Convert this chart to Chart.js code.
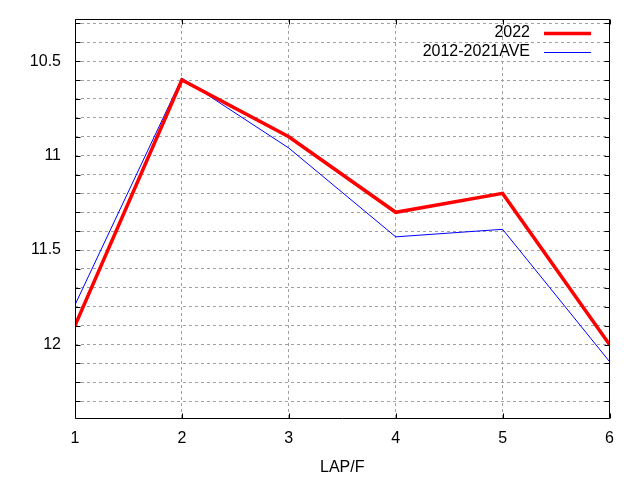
<!DOCTYPE html>
<html>
<head>
<meta charset="utf-8">
<script src="https://cdn.jsdelivr.net/npm/chart.js@4"></script>
<style>
html,body{margin:0;padding:0;background:#fff;}
#wrap{width:640px;height:480px;}
</style>
</head>
<body>
<div id="wrap"><canvas id="c" width="640" height="480"></canvas></div>
<script>
const categories = [1, 2, 3, 4, 5, 6];
const series2022 = [11.90, 10.60, 10.90, 11.30, 11.20, 12.00];
const seriesAve = [11.79, 10.59, 10.96, 11.43, 11.39, 12.09];
const seriesLabels = ['2022', '2012-2021AVE'];
const yTickValues = [10.3, 10.4, 10.5, 10.6, 10.7, 10.8, 10.9, 11.0, 11.1, 11.2, 11.3, 11.4, 11.5, 11.6, 11.7, 11.8, 11.9, 12.0, 12.1, 12.2, 12.3];
const yLabelValues = [10.5, 11, 11.5, 12];
const xTickValues = [1, 2, 3, 4, 5, 6];
const xTitle = 'LAP/F';

const FONT = 'Liberation Sans, Arial, sans-serif';

const framePlugin = {
  id: 'frame',
  afterDatasetsDraw(chart) {
    const {ctx, chartArea: a, scales} = chart;
    ctx.save();
    ctx.strokeStyle = '#000';
    ctx.lineWidth = 1;
    ctx.beginPath();
    const L = Math.round(a.left) + 0.5, R = Math.round(a.right) - 0.5;
    const T = Math.round(a.top) + 0.5, B = Math.round(a.bottom) - 0.5;
    ctx.rect(L, T, R - L, B - T);
    ctx.stroke();
    ctx.beginPath();
    yTickValues.forEach(v => {
      const y = Math.round(scales.y.getPixelForValue(v)) + 0.5;
      ctx.moveTo(L, y); ctx.lineTo(L + 5, y);
      ctx.moveTo(R, y); ctx.lineTo(R - 5, y);
    });
    xTickValues.forEach(v => {
      const x = Math.round(scales.x.getPixelForValue(v)) + 0.5;
      ctx.moveTo(x, B); ctx.lineTo(x, B - 5);
      ctx.moveTo(x, T); ctx.lineTo(x, T + 5);
    });
    ctx.stroke();
    ctx.restore();
  },
  afterDraw(chart) {
    const {ctx} = chart;
    ctx.save();
    ctx.font = '16px ' + FONT;
    ctx.fillStyle = '#000';
    ctx.textAlign = 'right';
    ctx.textBaseline = 'middle';
    const rows = [33, 52];
    chart.data.datasets.forEach((ds, i) => {
      ctx.fillText(ds.label, 530, rows[i]);
      ctx.strokeStyle = ds.borderColor;
      ctx.lineWidth = i === 0 ? 3.5 : 1;
      ctx.beginPath();
      ctx.moveTo(544, rows[i] + 0.5);
      ctx.lineTo(591, rows[i] + 0.5);
      ctx.stroke();
    });
    ctx.restore();
  }
};

new Chart(document.getElementById('c'), {
  type: 'line',
  data: {
    datasets: [
      {
        label: seriesLabels[0],
        data: categories.map((x, i) => ({x: x, y: series2022[i]})),
        borderColor: '#ff0000',
        borderWidth: 3.5,
        pointRadius: 0,
        tension: 0,
        borderJoinStyle: 'miter',
        fill: false
      },
      {
        label: seriesLabels[1],
        data: categories.map((x, i) => ({x: x, y: seriesAve[i]})),
        borderColor: '#0000ff',
        borderWidth: 1,
        pointRadius: 0,
        tension: 0,
        fill: false
      }
    ]
  },
  options: {
    responsive: false,
    animation: false,
    devicePixelRatio: 1,
    layout: {padding: {left: 0, top: 19, right: 30.5, bottom: 0}},
    plugins: {legend: {display: false}, tooltip: {enabled: false}},
    scales: {
      x: {
        type: 'linear',
        min: 1, max: 6,
        afterFit(s) { s.height = 61; s.paddingLeft = 0; s.paddingRight = 0; },
        afterBuildTicks(s) { s.ticks = xTickValues.map(v => ({value: v})); },
        grid: {color: '#a0a0a0', drawTicks: false, tickLength: 0},
        border: {display: false, dash: [3, 3]},
        ticks: {
          padding: 10,
          color: '#000',
          font: {family: FONT, size: 16},
          maxRotation: 0
        },
        title: {
          display: true,
          text: xTitle,
          color: '#000',
          font: {family: FONT, size: 16},
          padding: {top: 2, bottom: 3}
        }
      },
      y: {
        type: 'linear',
        reverse: true,
        min: 10.277, max: 12.394,
        afterFit(s) { s.width = 75; s.paddingTop = 0; s.paddingBottom = 0; },
        afterBuildTicks(s) { s.ticks = yTickValues.map(v => ({value: v})); },
        grid: {color: '#a0a0a0', drawTicks: false, tickLength: 0},
        border: {display: false, dash: [3, 3]},
        ticks: {
          padding: 14,
          color: '#000',
          font: {family: FONT, size: 16},
          autoSkip: false,
          callback(v) {
            const hit = yLabelValues.find(l => Math.abs(l - v) < 1e-6);
            return hit !== undefined ? String(hit) : '';
          }
        }
      }
    }
  },
  plugins: [framePlugin]
});
</script>
</body>
</html>
